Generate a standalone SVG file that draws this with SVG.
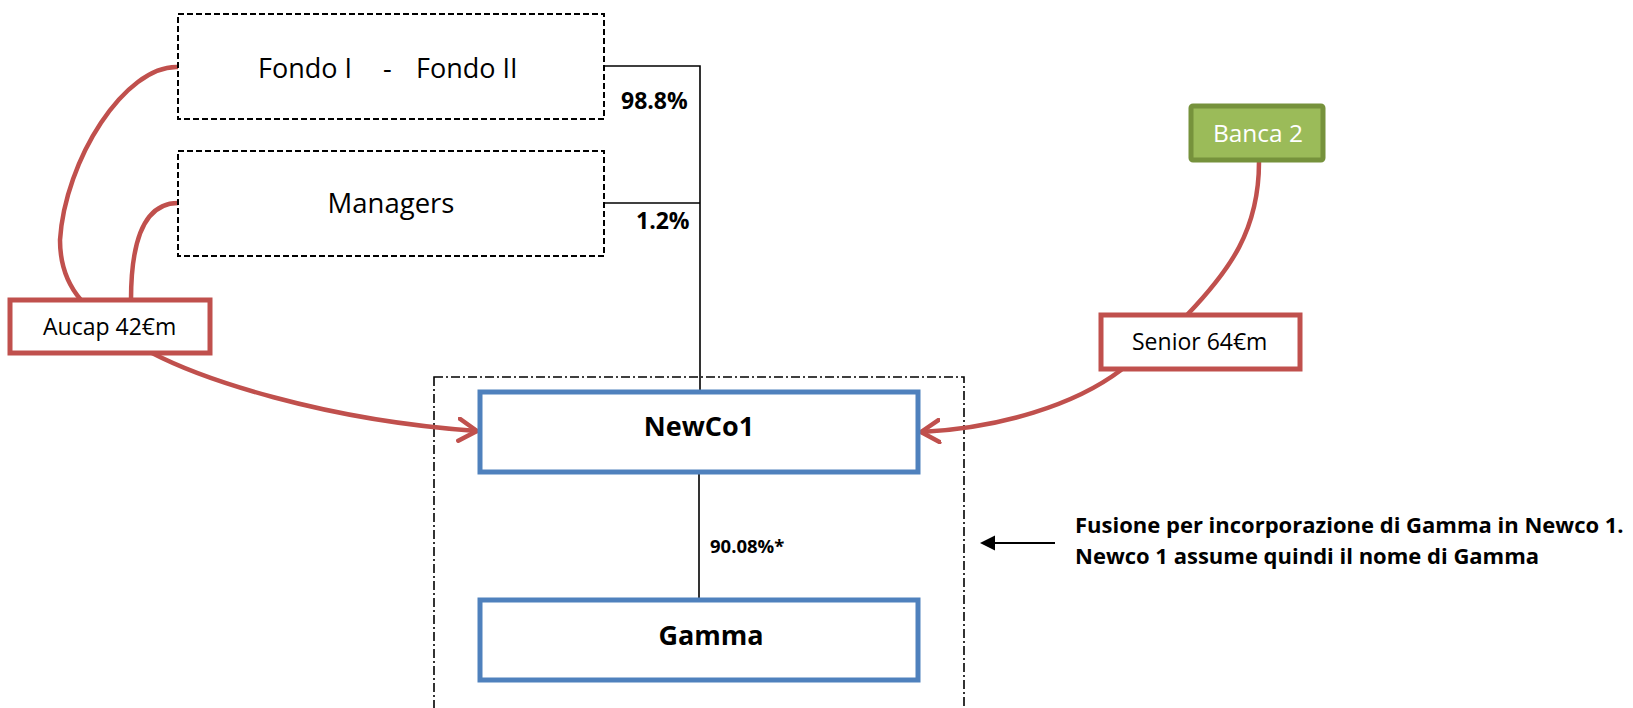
<svg xmlns="http://www.w3.org/2000/svg" width="1633" height="708" viewBox="0 0 1633 708">
  <style>
    .lbl { font-family: "Open Sans", "Liberation Sans", sans-serif; fill: #000; }
    .b { font-weight: bold; }
    .dashed { fill: #fff; stroke: #000; stroke-width: 2; stroke-dasharray: 6 3; }
    .blue { fill: #fff; stroke: #4F81BD; stroke-width: 5; }
    .redbox { fill: #fff; stroke: #C0504D; stroke-width: 5; }
    .red { fill: none; stroke: #C0504D; stroke-width: 4.5; stroke-linecap: round; }
    .own { fill: none; stroke: #000; stroke-width: 1.6; }
  </style>
  <defs>
    <marker id="chev" viewBox="0 0 22 26" refX="20" refY="13" markerWidth="22" markerHeight="26" markerUnits="userSpaceOnUse" orient="auto">
      <path d="M2,2 L20,13 L2,24" fill="none" stroke="#C0504D" stroke-width="4.5" stroke-linecap="round" stroke-linejoin="round"/>
    </marker>
  </defs>
  <rect width="1633" height="708" fill="#fff"/>

  <!-- merger perimeter -->
  <rect id="merger-area" x="434" y="377" width="530" height="350" fill="none" stroke="#000" stroke-width="1.6" stroke-dasharray="9 3 2 3"/>

  <!-- connectors -->
  <g id="connectors">
    <path class="own" d="M604,66 H700 V396"/>
    <path class="own" d="M604,203 H700"/>
    <path class="own" d="M699,472 V600"/>
    <path class="red" d="M178,67 C125,65 65,160 60,240 C60,265 68,285 81,300"/>
    <path class="red" d="M178,203 C145,203 131,240 131,300"/>
    <path class="red" d="M152,353 C200,378 320,420 477,431" stroke-width="6.5" marker-end="url(#chev)"/>
    <path class="red" d="M1259,162 C1259,230 1230,270 1187,315"/>
    <path class="red" d="M1121,370 C1075,405 1000,428 921,432" marker-end="url(#chev)"/>
    <path d="M1055,543 H990" stroke="#000" stroke-width="2"/>
    <path d="M980,543 L995,535.5 L995,550.5 Z" fill="#000"/>
    <text class="lbl b" x="621" y="109" font-size="23">98.8%</text>
    <text class="lbl b" x="636" y="229" font-size="23">1.2%</text>
    <text class="lbl b" x="710" y="553" font-size="18.5">90.08%*</text>
  </g>

  <g id="fondo">
    <rect class="dashed" x="178" y="14" width="426" height="105"/>
    <text class="lbl" y="78" font-size="27" xml:space="preserve"><tspan x="258">Fondo I    </tspan><tspan x="383">-   </tspan><tspan x="416">Fondo II</tspan></text>
  </g>
  <g id="managers">
    <rect class="dashed" x="178" y="151" width="426" height="105"/>
    <text class="lbl" x="391" y="213" font-size="27.5" text-anchor="middle">Managers</text>
  </g>
  <g id="aucap">
    <rect class="redbox" x="10" y="300" width="200" height="53"/>
    <text class="lbl" x="43" y="335" font-size="23">Aucap 42€m</text>
  </g>
  <g id="banca2">
    <rect x="1191" y="106" width="132" height="54" rx="2" fill="#9BBB59" stroke="#76923C" stroke-width="5"/>
    <text class="lbl" x="1258" y="142" font-size="24.5" text-anchor="middle" style="fill:#fff">Banca 2</text>
  </g>
  <g id="senior">
    <rect class="redbox" x="1101" y="315" width="199" height="54"/>
    <text class="lbl" x="1132" y="350" font-size="23">Senior 64€m</text>
  </g>
  <g id="newco1">
    <rect class="blue" x="480" y="392" width="438" height="80"/>
    <text class="lbl b" x="699" y="436" font-size="27" text-anchor="middle">NewCo1</text>
  </g>
  <g id="gamma">
    <rect class="blue" x="480" y="600" width="438" height="80"/>
    <text class="lbl b" x="711" y="645" font-size="27" text-anchor="middle">Gamma</text>
  </g>
  <g id="note">
    <text class="lbl b" x="1075" y="533" font-size="22">Fusione per incorporazione di Gamma in Newco 1.</text>
    <text class="lbl b" x="1075" y="564" font-size="22">Newco 1 assume quindi il nome di Gamma</text>
  </g>
</svg>
